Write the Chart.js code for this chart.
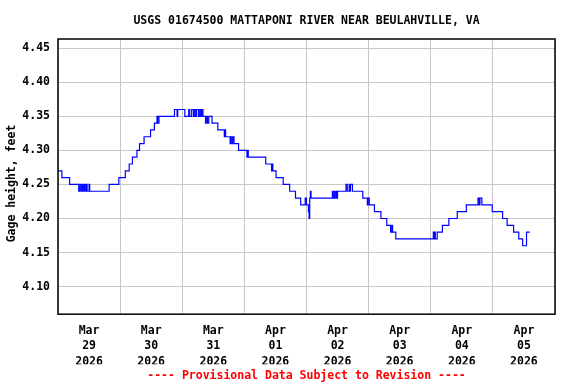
<!DOCTYPE html>
<html>
<head>
<meta charset="utf-8">
<script src="https://cdn.jsdelivr.net/npm/chart.js@4.4.1/dist/chart.umd.min.js"></script>
<style>
  html, body { margin: 0; padding: 0; background: #fff; }
</style>
</head>
<body>
<canvas id="gageChart" width="576" height="384"></canvas>
<script>
// hours since Mar 29 2026 00:00 at which the reading changes
const changeHours = [
    0, 1.5, 4.5, 8, 8.5, 9, 9.5, 9.75, 10.25, 10.75, 11, 11.25, 12, 12.25,
    19.75, 23.5, 26, 27.5, 28.75, 30.5, 31.5, 33.25, 35.75, 37.25, 38.25, 38.5, 39,
    45, 46, 46.25, 49, 50.5, 50.75, 51.5, 52.25, 52.5, 53, 53.5, 54.25, 54.75, 55.25, 55.5, 56,
    57, 57.25, 57.75, 58.25, 59.5, 61.75, 64.25, 64.5, 64.75, 66.5, 66.75, 67.25, 67.5, 68,
    69.75, 73, 73.25, 73.5, 80.25, 82.5, 82.75, 83, 84.25, 87, 89.5, 91.75, 93.75,
    95.5, 96, 96.75, 97, 97.25, 97.5, 97.75, 106, 106.25, 106.75, 107, 107.5, 107.75, 108,
    111.25, 111.75, 112.5, 112.75, 113, 113.75, 117.75, 119.5, 119.75, 120.25, 122.25, 124.75,
    127, 128.5, 129, 129.25, 130.5, 145, 145.25, 145.5, 145.75, 146.5, 148.5, 151, 154.25, 157.75,
    162.25, 162.75, 163, 163.75, 167.75, 171.75, 173.5, 176, 178, 179.5, 181, 182.25
];
// gage height (feet) from each change time on
const gageHeights = [
    4.27, 4.26, 4.25, 4.24, 4.25, 4.24, 4.25, 4.24, 4.25, 4.24, 4.25, 4.24, 4.25, 4.24,
    4.25, 4.26, 4.27, 4.28, 4.29, 4.30, 4.31, 4.32, 4.33, 4.34, 4.35, 4.34, 4.35,
    4.36, 4.35, 4.36, 4.35, 4.36, 4.35, 4.36, 4.35, 4.36, 4.35, 4.36, 4.35, 4.36, 4.35, 4.36, 4.35,
    4.34, 4.35, 4.34, 4.35, 4.34, 4.33, 4.32, 4.33, 4.32, 4.31, 4.32, 4.31, 4.32, 4.31,
    4.30, 4.29, 4.30, 4.29, 4.28, 4.27, 4.28, 4.27, 4.26, 4.25, 4.24, 4.23, 4.22,
    4.23, 4.22, 4.21, 4.20, 4.23, 4.24, 4.23, 4.24, 4.23, 4.24, 4.23, 4.24, 4.23, 4.24,
    4.25, 4.24, 4.25, 4.24, 4.25, 4.24, 4.23, 4.22, 4.23, 4.22, 4.21, 4.20,
    4.19, 4.18, 4.19, 4.18, 4.17, 4.18, 4.17, 4.18, 4.17, 4.18, 4.19, 4.20, 4.21, 4.22,
    4.23, 4.22, 4.23, 4.22, 4.21, 4.20, 4.19, 4.18, 4.17, 4.16, 4.18, 4.18
];

const dayMonths = ['Mar', 'Mar', 'Mar', 'Apr', 'Apr', 'Apr', 'Apr', 'Apr'];
const dayNumbers = ['29', '30', '31', '01', '02', '03', '04', '05'];
const dayYear = '2026';
const yTicks = [4.10, 4.15, 4.20, 4.25, 4.30, 4.35, 4.40, 4.45];

const font = { family: 'DejaVu Sans Mono', size: 11.5, weight: 'bold' };

// box around the plot area
const frame = {
    id: 'frame',
    afterDraw(chart) {
        const a = chart.chartArea;
        const ctx = chart.ctx;
        ctx.save();
        ctx.strokeStyle = '#000';
        ctx.lineWidth = 1.5;
        ctx.strokeRect(a.left, a.top, a.right - a.left, a.bottom - a.top);
        ctx.restore();
    }
};

const ctx = document.getElementById('gageChart').getContext('2d');
const gageChart = new Chart(ctx, {
    type: 'line',
    data: {
        datasets: [{
            label: 'Gage height',
            data: changeHours.map((h, i) => ({ x: h, y: gageHeights[i] })),
            borderColor: '#0000ff',
            borderWidth: 1.2,
            pointRadius: 0,
            stepped: true,
            fill: false
        }]
    },
    options: {
        responsive: false,
        animation: false,
        layout: { padding: { left: 0, right: 21, top: 0, bottom: 0 } },
        scales: {
            x: {
                type: 'linear',
                min: 0,
                max: 192,
                afterBuildTicks: function (scale) {
                    const t = [];
                    for (let h = 0; h <= 192; h += 12) t.push({ value: h });
                    scale.ticks = t;
                },
                afterFit: function (scale) { scale.height = 50; },
                grid: {
                    color: function (c) {
                        return c.tick && c.tick.value % 24 === 0 ? '#c8c8c8' : 'rgba(0,0,0,0)';
                    },
                    lineWidth: 1,
                    drawTicks: false
                },
                border: { display: false },
                ticks: {
                    autoSkip: false,
                    maxRotation: 0,
                    padding: 9.5,
                    color: '#000',
                    font: Object.assign({}, font, { lineHeight: 1.32 }),
                    callback: function (value) {
                        if (value % 24 !== 12) return '';
                        const d = Math.floor(value / 24);
                        return [dayMonths[d], dayNumbers[d], dayYear];
                    }
                }
            },
            y: {
                min: 4.0595,
                max: 4.4635,
                afterBuildTicks: function (scale) {
                    scale.ticks = yTicks.map(v => ({ value: v }));
                },
                afterFit: function (scale) { scale.width = 58; },
                grid: { color: '#c8c8c8', lineWidth: 1, drawTicks: false },
                border: { display: false },
                ticks: {
                    padding: 8,
                    color: '#000',
                    font: font,
                    callback: function (value) { return value.toFixed(2); }
                },
                title: {
                    display: true,
                    text: 'Gage height, feet  ',
                    color: '#000',
                    font: font,
                    padding: { top: 5, bottom: 0 }
                }
            }
        },
        plugins: {
            legend: { display: false },
            tooltip: { enabled: false },
            title: {
                display: true,
                text: 'USGS 01674500 MATTAPONI RIVER NEAR BEULAHVILLE, VA',
                color: '#000',
                font: font,
                fullSize: false,
                padding: { top: 14, bottom: 11.2 }
            },
            subtitle: {
                display: true,
                position: 'bottom',
                text: '---- Provisional Data Subject to Revision ----',
                color: '#ff0000',
                font: font,
                fullSize: false,
                padding: { top: 5, bottom: 1 }
            }
        }
    },
    plugins: [frame]
});
</script>
</body>
</html>
